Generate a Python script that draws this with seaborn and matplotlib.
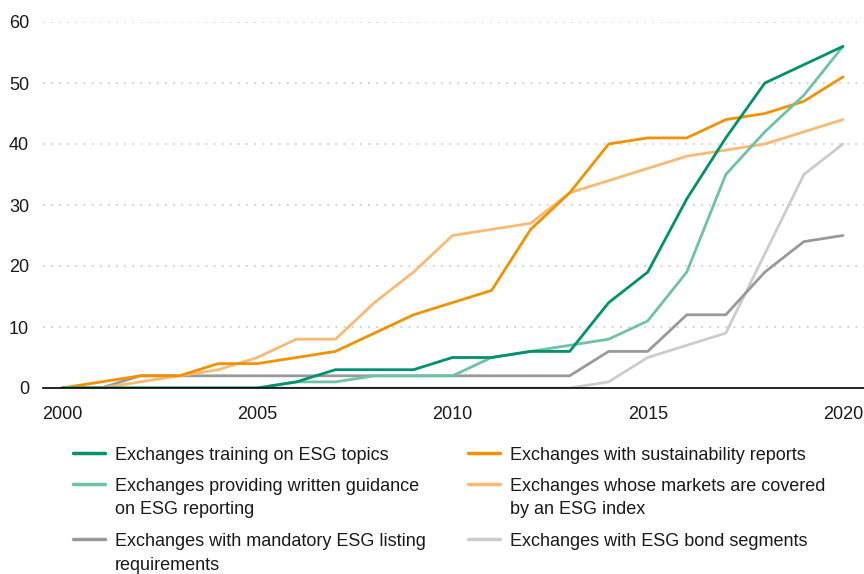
import numpy as np
import pandas as pd
import matplotlib
matplotlib.use("Agg")
import matplotlib.pyplot as plt
import seaborn as sns
from matplotlib.lines import Line2D

years = list(range(2000, 2021))
training = [0, 0, 0, 0, 0, 0, 1, 3, 3, 3, 5, 5, 6, 6, 14, 19, 31, 41, 50, 53, 56]
guidance = [0, 0, 0, 0, 0, 0, 1, 1, 2, 2, 2, 5, 6, 7, 8, 11, 19, 35, 42, 48, 56]
mandatory = [0, 0, 2, 2, 2, 2, 2, 2, 2, 2, 2, 2, 2, 2, 6, 6, 12, 12, 19, 24, 25]
reports = [0, 1, 2, 2, 4, 4, 5, 6, 9, 12, 14, 16, 26, 32, 40, 41, 41, 44, 45, 47, 51]
index_cov = [0, 0, 1, 2, 3, 5, 8, 8, 14, 19, 25, 26, 27, 32, 34, 36, 38, 39, 40, 42, 44]
bonds = [0, 0, 0, 0, 0, 0, 0, 0, 0, 0, 0, 0, 0, 0, 1, 5, 7, 9, 22, 35, 40]

series_names = [
    "Exchanges training on ESG topics",
    "Exchanges providing written guidance\non ESG reporting",
    "Exchanges with mandatory ESG listing\nrequirements",
    "Exchanges with sustainability reports",
    "Exchanges whose markets are covered\nby an ESG index",
    "Exchanges with ESG bond segments",
]
series_values = [training, guidance, mandatory, reports, index_cov, bonds]
colors = ["#00916E", "#6CC3A6", "#999999", "#F39200", "#FBBA72", "#CCCCCC"]
y_ticks = [0, 10, 20, 30, 40, 50, 60]
x_ticks = [2000, 2005, 2010, 2015, 2020]

rows = []
for name, vals in zip(series_names, series_values):
    for y, v in zip(years, vals):
        rows.append({"year": y, "value": v, "series": name})
df = pd.DataFrame(rows)

sns.set_theme(style="white")
plt.rcParams["font.family"] = ["Liberation Sans", "DejaVu Sans"]

fig = plt.figure(figsize=(8.64, 5.74), dpi=100)
ax = fig.add_axes([43 / 864, 1 - 388 / 574, 1 - 43 / 864, (388 - 22) / 574])

draw_order = [5, 2, 4, 3, 1, 0]
hue_order = [series_names[i] for i in draw_order]
palette = {series_names[i]: colors[i] for i in range(6)}
sns.lineplot(data=df, x="year", y="value", hue="series", hue_order=hue_order,
             palette=palette, linewidth=2.0, legend=False, ax=ax, zorder=3)

ax.set_xlim(1999.51, 2020.54)
ax.set_ylim(0, 60)
ax.set_xticks(x_ticks)
ax.set_yticks(y_ticks)
ax.set_xticklabels([str(t) for t in x_ticks], fontsize=13, color="#1a1a1a")
ax.set_yticklabels([str(t) for t in y_ticks], fontsize=13, color="#1a1a1a")
ax.tick_params(axis="both", length=0)
ax.tick_params(axis="y", pad=10)
ax.tick_params(axis="x", pad=13)
ax.set_xlabel("")
ax.set_ylabel("")
for s in ["top", "right", "left"]:
    ax.spines[s].set_visible(False)
ax.spines["bottom"].set_color("black")
ax.spines["bottom"].set_linewidth(1.2)
ax.spines["bottom"].set_zorder(4)
for t in y_ticks[1:]:
    ax.axhline(t, color="#cfcfcf", linestyle=(0, (1, 3.5)), linewidth=1.3, zorder=1)

# manual legend (two columns, handle aligned to first text line)
legend_pos = [
    (73, 453), (73, 484), (73, 539),
    (468, 453), (468, 484), (468, 539),
]
for (px, py), name, c in zip(legend_pos, series_names, colors):
    fx0, fx1 = px / 864, (px + 32) / 864
    fy = 1 - py / 574
    fig.add_artist(Line2D([fx0, fx1], [fy, fy], color=c, linewidth=2.5,
                          transform=fig.transFigure))
    fig.text((px + 42) / 864, 1 - (py - 6) / 574, name, fontsize=13,
             color="#1a1a1a", va="top", ha="left", linespacing=1.5)

fig.savefig("out.png", dpi=100)
